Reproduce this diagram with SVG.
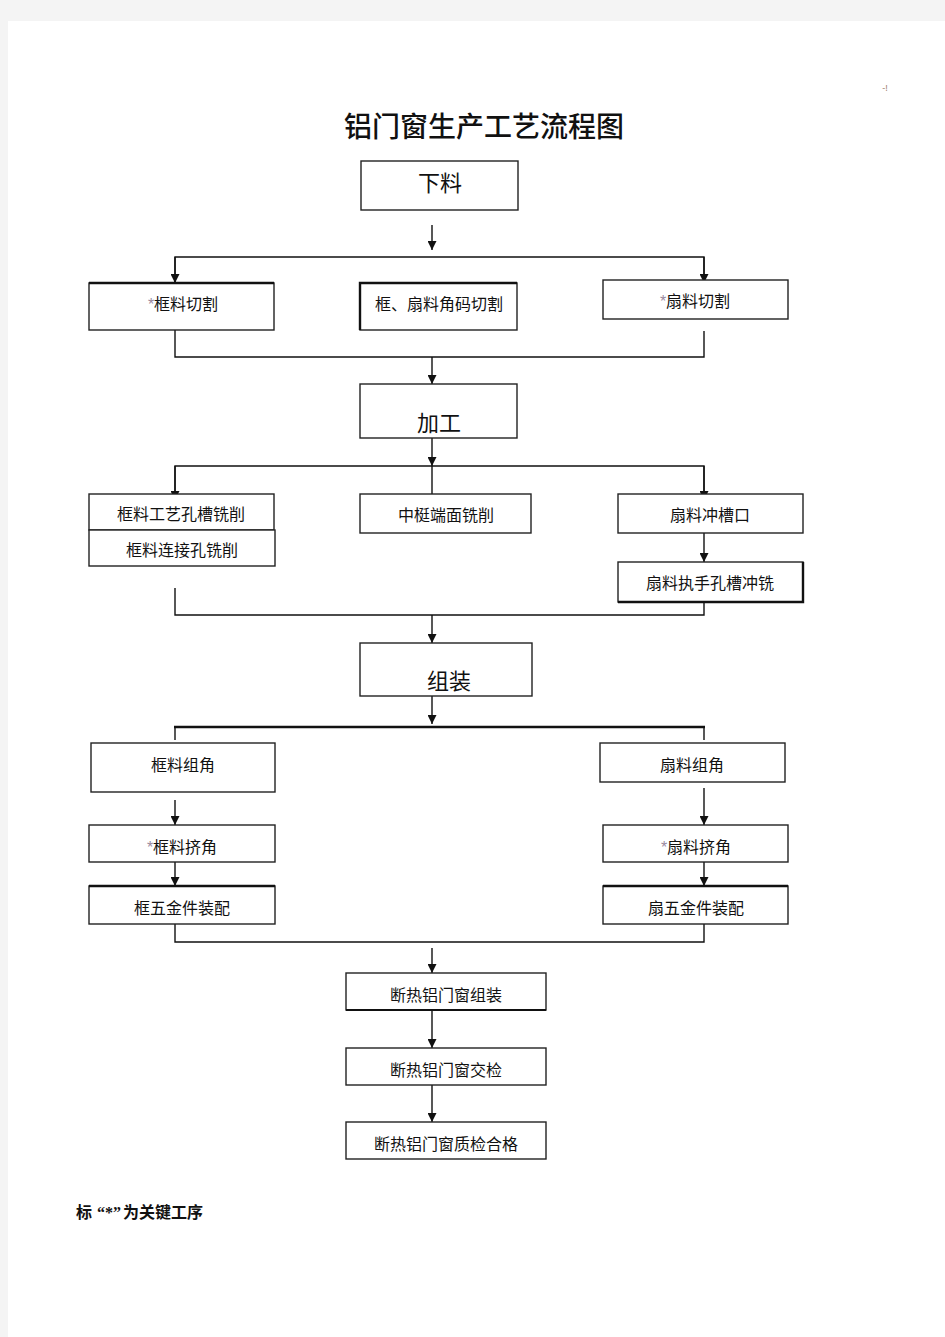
<svg xmlns="http://www.w3.org/2000/svg" width="945" height="1337" viewBox="0 0 945 1337">
<defs>
<style>
.box{fill:#fff;stroke:#222;stroke-width:1.4}
.t{font-family:"Liberation Sans","Noto Sans CJK SC",sans-serif;font-size:16px;fill:#111;text-anchor:middle}
.big{font-family:"Liberation Serif","Noto Sans CJK SC",serif;font-size:22px;fill:#111;text-anchor:middle}
.star{fill:#9a8aa0}
.ln{fill:none;stroke:#111;stroke-width:1.4}
.arr{fill:none;stroke:#111;stroke-width:1.4;marker-end:url(#ah)}
</style>
<marker id="ah" viewBox="0 0 10 10" refX="10" refY="5" markerWidth="9" markerHeight="9" markerUnits="userSpaceOnUse" orient="auto">
<path d="M0,0 L10,5 L0,10 Z" fill="#111"/>
</marker>
</defs>
<rect x="0" y="0" width="945" height="1337" fill="#f4f4f4"/>
<rect x="8" y="21" width="937" height="1316" fill="#fff"/>
<text x="885" y="91" font-family="Liberation Sans,sans-serif" font-size="9" fill="#a08070" text-anchor="middle">-!</text>
<text x="484" y="137" font-family="Liberation Serif,'Noto Sans CJK SC',serif" font-size="28" font-weight="500" fill="#111" text-anchor="middle">铝门窗生产工艺流程图</text>

<g id="connectors">
<line class="arr" x1="432" y1="225" x2="432" y2="250"/>
<polyline class="ln" points="175,284 175,257 704,257 704,281"/>
<line class="arr" x1="175" y1="257" x2="175" y2="283"/>
<line class="arr" x1="704" y1="257" x2="704" y2="283"/>
<polyline class="ln" points="175,330 175,357 704,357 704,331"/>
<line class="arr" x1="432" y1="357" x2="432" y2="384"/>
<line class="arr" x1="432" y1="438" x2="432" y2="466"/>
<polyline class="ln" points="175,494 175,466 704,466 704,494"/>
<line class="ln" x1="432" y1="466" x2="432" y2="494"/>
<line class="arr" x1="175" y1="466" x2="175" y2="500"/>
<line class="arr" x1="704" y1="466" x2="704" y2="500"/>
<line class="arr" x1="704" y1="533" x2="704" y2="562"/>
<polyline class="ln" points="175,588 175,615 704,615 704,602"/>
<line class="arr" x1="432" y1="615" x2="432" y2="643"/>
<line class="arr" x1="432" y1="696" x2="432" y2="724"/>
<line x1="174" y1="727" x2="705" y2="727" stroke="#111" stroke-width="2.4"/>
<line class="ln" x1="175" y1="727" x2="175" y2="740"/>
<line class="ln" x1="704" y1="727" x2="704" y2="740"/>
<line class="arr" x1="175" y1="800" x2="175" y2="825"/>
<line class="arr" x1="704" y1="788" x2="704" y2="825"/>
<line class="arr" x1="175" y1="862" x2="175" y2="886"/>
<line class="arr" x1="704" y1="862" x2="704" y2="886"/>
<polyline class="ln" points="175,924 175,942 704,942 704,924"/>
<line class="arr" x1="432" y1="948" x2="432" y2="973"/>
<line class="arr" x1="432" y1="1010" x2="432" y2="1048"/>
<line class="arr" x1="432" y1="1085" x2="432" y2="1122"/>
</g>

<g id="n-xialiao"><rect class="box" x="361" y="161" width="157" height="49"/><text class="big" x="440" y="191">下料</text></g>
<g id="n-kuangqiege"><rect class="box" x="89" y="283" width="185" height="47"/><line x1="89" y1="283" x2="274" y2="283" stroke="#111" stroke-width="2.4"/><text class="t" x="183" y="310"><tspan class="star">*</tspan>框料切割</text></g>
<g id="n-jiaoma"><rect class="box" x="360" y="283" width="157" height="47"/><path d="M360,330 V283 H517" fill="none" stroke="#111" stroke-width="2.4"/><text class="t" x="439" y="310">框、扇料角码切割</text></g>
<g id="n-shanqiege"><rect class="box" x="603" y="280" width="185" height="39"/><text class="t" x="695" y="307"><tspan class="star">*</tspan>扇料切割</text></g>
<g id="n-jiagong"><rect class="box" x="360" y="384" width="157" height="54"/><text class="big" x="439" y="431">加工</text></g>
<g id="n-kongcao"><rect class="box" x="89" y="494" width="185" height="36"/><text class="t" x="181" y="520">框料工艺孔槽铣削</text></g>
<g id="n-lianjie"><rect class="box" x="89" y="530" width="186" height="36"/><text class="t" x="182" y="556">框料连接孔铣削</text></g>
<g id="n-zhongting"><rect class="box" x="360" y="494" width="171" height="39"/><text class="t" x="446" y="521">中梃端面铣削</text></g>
<g id="n-chongcao"><rect class="box" x="618" y="494" width="185" height="39"/><text class="t" x="710" y="521">扇料冲槽口</text></g>
<g id="n-zhishou"><rect class="box" x="618" y="562" width="185" height="40"/><path d="M618,602 H803 V562" fill="none" stroke="#111" stroke-width="2.4"/><text class="t" x="710" y="589">扇料执手孔槽冲铣</text></g>
<g id="n-zuzhuang"><rect class="box" x="360" y="643" width="172" height="53"/><text class="big" x="449" y="689">组装</text></g>
<g id="n-kuangzujiao"><rect class="box" x="91" y="743" width="184" height="49"/><text class="t" x="183" y="771">框料组角</text></g>
<g id="n-shanzujiao"><rect class="box" x="600" y="743" width="185" height="39"/><text class="t" x="692" y="771">扇料组角</text></g>
<g id="n-kuangjijiao"><rect class="box" x="89" y="825" width="186" height="37"/><text class="t" x="182" y="853"><tspan class="star">*</tspan>框料挤角</text></g>
<g id="n-shanjijiao"><rect class="box" x="603" y="825" width="185" height="37"/><text class="t" x="696" y="853"><tspan class="star">*</tspan>扇料挤角</text></g>
<g id="n-kuangwujin"><rect class="box" x="89" y="886" width="186" height="38"/><line x1="89" y1="886" x2="275" y2="886" stroke="#111" stroke-width="2.4"/><text class="t" x="182" y="914">框五金件装配</text></g>
<g id="n-shanwujin"><rect class="box" x="603" y="886" width="185" height="38"/><line x1="603" y1="886" x2="788" y2="886" stroke="#111" stroke-width="2.4"/><text class="t" x="696" y="914">扇五金件装配</text></g>
<g id="n-duanre1"><rect class="box" x="346" y="973" width="200" height="37"/><line x1="346" y1="1010" x2="546" y2="1010" stroke="#111" stroke-width="2.2"/><text class="t" x="446" y="1001">断热铝门窗组装</text></g>
<g id="n-duanre2"><rect class="box" x="346" y="1048" width="200" height="37"/><text class="t" x="446" y="1076">断热铝门窗交检</text></g>
<g id="n-duanre3"><rect class="box" x="346" y="1122" width="200" height="37"/><text class="t" x="446" y="1150">断热铝门窗质检合格</text></g>

<text x="76" y="1218" font-family="Liberation Serif,'Noto Sans CJK SC',serif" font-size="16" font-weight="bold" fill="#111">标<tspan dx="5">“*”</tspan><tspan dx="2">为关键工序</tspan></text>
</svg>
